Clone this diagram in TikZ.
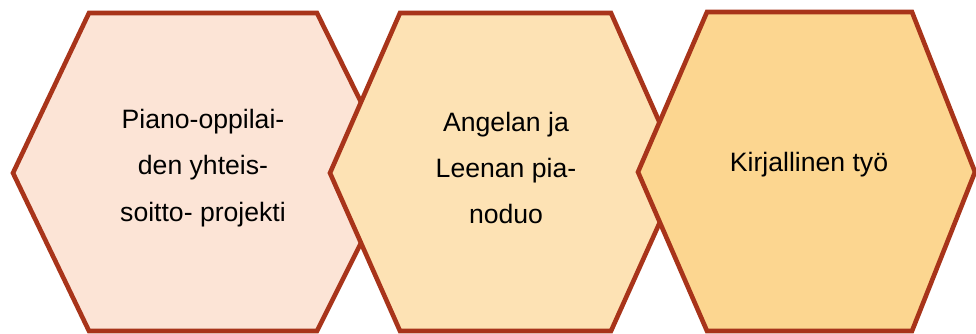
\documentclass[tikz,border=0pt]{standalone}
\usepackage{fontspec}
\setmainfont{Liberation Sans}
\definecolor{hexborder}{RGB}{168,52,26}
\definecolor{fillA}{RGB}{252,228,214}
\definecolor{fillB}{RGB}{253,226,180}
\definecolor{fillC}{RGB}{252,214,144}
\tikzset{
	hexcell/.style={draw=hexborder, line width=2.3pt, line join=miter},
	hextext/.style={align=center, font=\fontsize{13.3}{23.2}\selectfont}
}
\begin{document}
\begin{tikzpicture}[x=0.5pt,y=-0.5pt]
					\useasboundingbox (0,0) rectangle (976,333);
					
					\def\top{13}
					\def\bot{331}
					\def\mid{173}
					
					% kolme kuusikulmiota vasemmalta oikealle
					\filldraw[hexcell, fill=fillA] (13,\mid) -- (89,\top) -- (317,\top) -- (396,\mid) -- (317,\bot) -- (89,\bot) -- cycle;
					\filldraw[hexcell, fill=fillB] (330,\mid) -- (400,\top) -- (611,\top) -- (682,\mid) -- (611,\bot) -- (400,\bot) -- cycle;
					\filldraw[hexcell, fill=fillC] (638,172) -- (707,12) -- (912,12) -- (975,172) -- (912,\bot) -- (707,\bot) -- cycle;
					
					\node[hextext] (P) at (203,168) {Piano-oppilai-\\den yhteis-\\soitto- projekti};
					\node[hextext] (D) at (506,168) {Angelan ja\\Leenan pia-\\noduo};
					\node[hextext] (K) at (809,165) {Kirjallinen työ};
					
\end{tikzpicture}
\end{document}
